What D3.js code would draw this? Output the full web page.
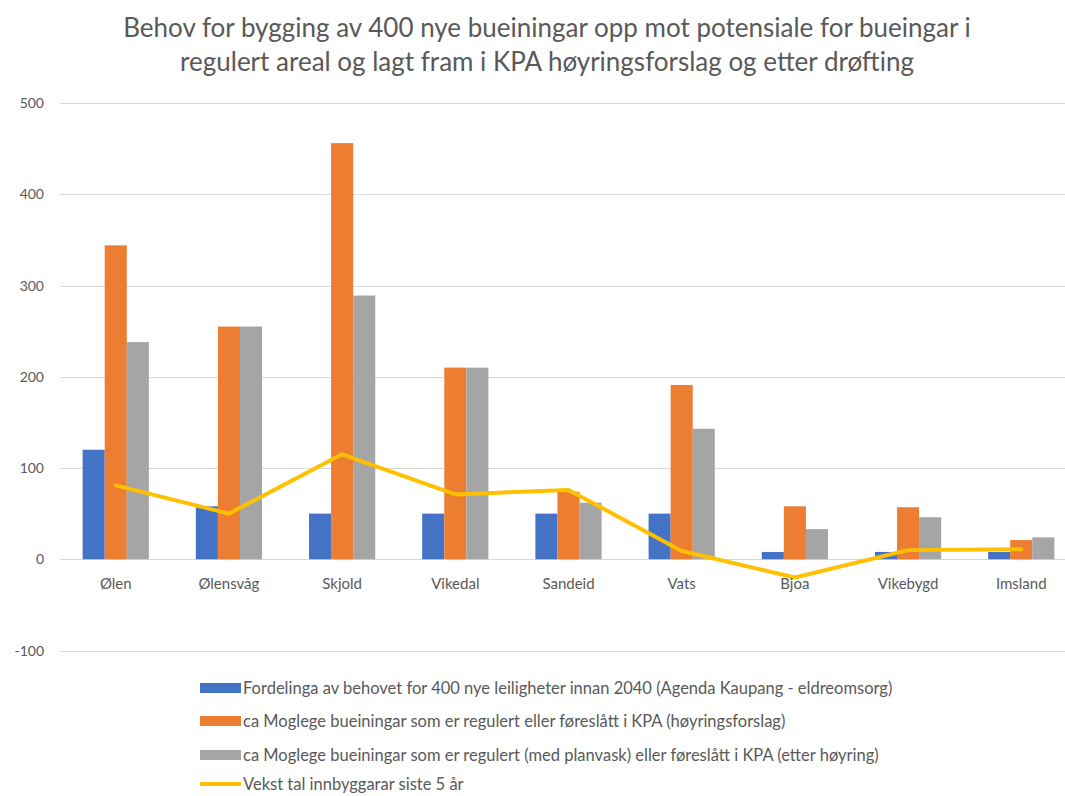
<!DOCTYPE html>
<html>
<head>
<meta charset="utf-8">
<script src="https://cdn.jsdelivr.net/npm/d3@7"></script>
<style>
  body { margin: 0; background: #fff; }
  text { font-family: Lato, "Open Sans", sans-serif; fill: #595959; }
</style>
</head>
<body>
<script>
const w = 1065;
const h = 796;

const places = ["Ølen", "Ølensvåg", "Skjold", "Vikedal", "Sandeid", "Vats", "Bjoa", "Vikebygd", "Imsland"];
const behov = [120, 58, 50, 50, 50, 50, 8, 8, 8];
const hoyring = [344, 255, 456, 210, 74, 191, 58, 57, 21];
const etterHoyring = [238, 255, 289, 210, 62, 143, 33, 46, 24];
const vekst = [81, 50, 115, 71, 76, 9, -20, 10, 11];
const yTicks = [-100, 0, 100, 200, 300, 400, 500];

const seriesNames = [
  "Fordelinga av behovet for 400 nye leiligheter innan 2040 (Agenda Kaupang - eldreomsorg)",
  "ca Moglege bueiningar som er regulert eller føreslått i KPA (høyringsforslag)",
  "ca Moglege bueiningar som er regulert (med planvask) eller føreslått i KPA (etter høyring)",
  "Vekst tal innbyggarar siste 5 år"
];
const colors = ["#4472C4", "#ED7D31", "#A5A5A5", "#FFC000"];

const svg = d3.select("body").append("svg")
  .attr("width", w)
  .attr("height", h);

// title
const title = svg.append("text")
  .attr("text-anchor", "middle")
  .style("font-size", "26px");
title.append("tspan").attr("x", 547).attr("y", 37)
  .text("Behov for bygging av 400 nye bueiningar opp mot potensiale for bueingar i");
title.append("tspan").attr("x", 547).attr("y", 71)
  .text("regulert areal og lagt fram i KPA høyringsforslag og etter drøfting");

const xScale = d3.scaleBand()
  .domain(places)
  .range([60, 1077])
  .paddingInner(0.415)
  .paddingOuter(0.2);

const yScale = d3.scaleLinear()
  .domain([-100, 500])
  .range([650.5, 103]);

// gridlines
svg.append("g").selectAll("line")
  .data(yTicks)
  .enter()
  .append("line")
  .attr("x1", 60)
  .attr("x2", w)
  .attr("y1", d => Math.round(yScale(d)) + 0.5)
  .attr("y2", d => Math.round(yScale(d)) + 0.5)
  .attr("stroke", "#d9d9d9")
  .attr("stroke-width", 1);

// y labels
svg.append("g").selectAll("text")
  .data(yTicks)
  .enter()
  .append("text")
  .attr("x", 44)
  .attr("y", d => yScale(d) + 5)
  .attr("text-anchor", "end")
  .style("font-size", "14px")
  .text(d => d);

// bars
const barSeries = [behov, hoyring, etterHoyring];
const inner = d3.scaleBand()
  .domain([0, 1, 2])
  .range([0, xScale.bandwidth()]);

barSeries.forEach((vals, s) => {
  svg.append("g").selectAll("rect")
    .data(vals)
    .enter()
    .append("rect")
    .attr("x", (d, i) => xScale(places[i]) + inner(s))
    .attr("y", d => yScale(Math.max(0, d)))
    .attr("width", inner.bandwidth())
    .attr("height", d => Math.abs(yScale(d) - yScale(0)))
    .attr("fill", colors[s]);
});

// line
const line = d3.line()
  .x((d, i) => xScale(places[i]) + xScale.bandwidth() / 2)
  .y(d => yScale(d));

svg.append("path")
  .datum(vekst)
  .attr("d", line)
  .attr("fill", "none")
  .attr("stroke", colors[3])
  .attr("stroke-width", 4)
  .attr("stroke-linejoin", "round")
  .attr("stroke-linecap", "round");

// x labels
svg.append("g").selectAll("text")
  .data(places)
  .enter()
  .append("text")
  .attr("x", d => xScale(d) + xScale.bandwidth() / 2)
  .attr("y", 589)
  .attr("text-anchor", "middle")
  .style("font-size", "15px")
  .text(d => d);

// legend
const legend = svg.append("g").selectAll("g")
  .data(seriesNames)
  .enter()
  .append("g")
  .attr("transform", (d, i) => "translate(200," + [688, 721, 755, 784][i] + ")");

legend.append("rect")
  .attr("x", 0)
  .attr("y", (d, i) => i === 3 ? -2 : -5)
  .attr("width", 41)
  .attr("height", (d, i) => i === 3 ? 4 : 10)
  .attr("fill", (d, i) => colors[i]);

legend.append("text")
  .attr("x", 43)
  .attr("y", 6)
  .style("font-size", "16.5px")
  .text(d => d);
</script>
</body>
</html>
